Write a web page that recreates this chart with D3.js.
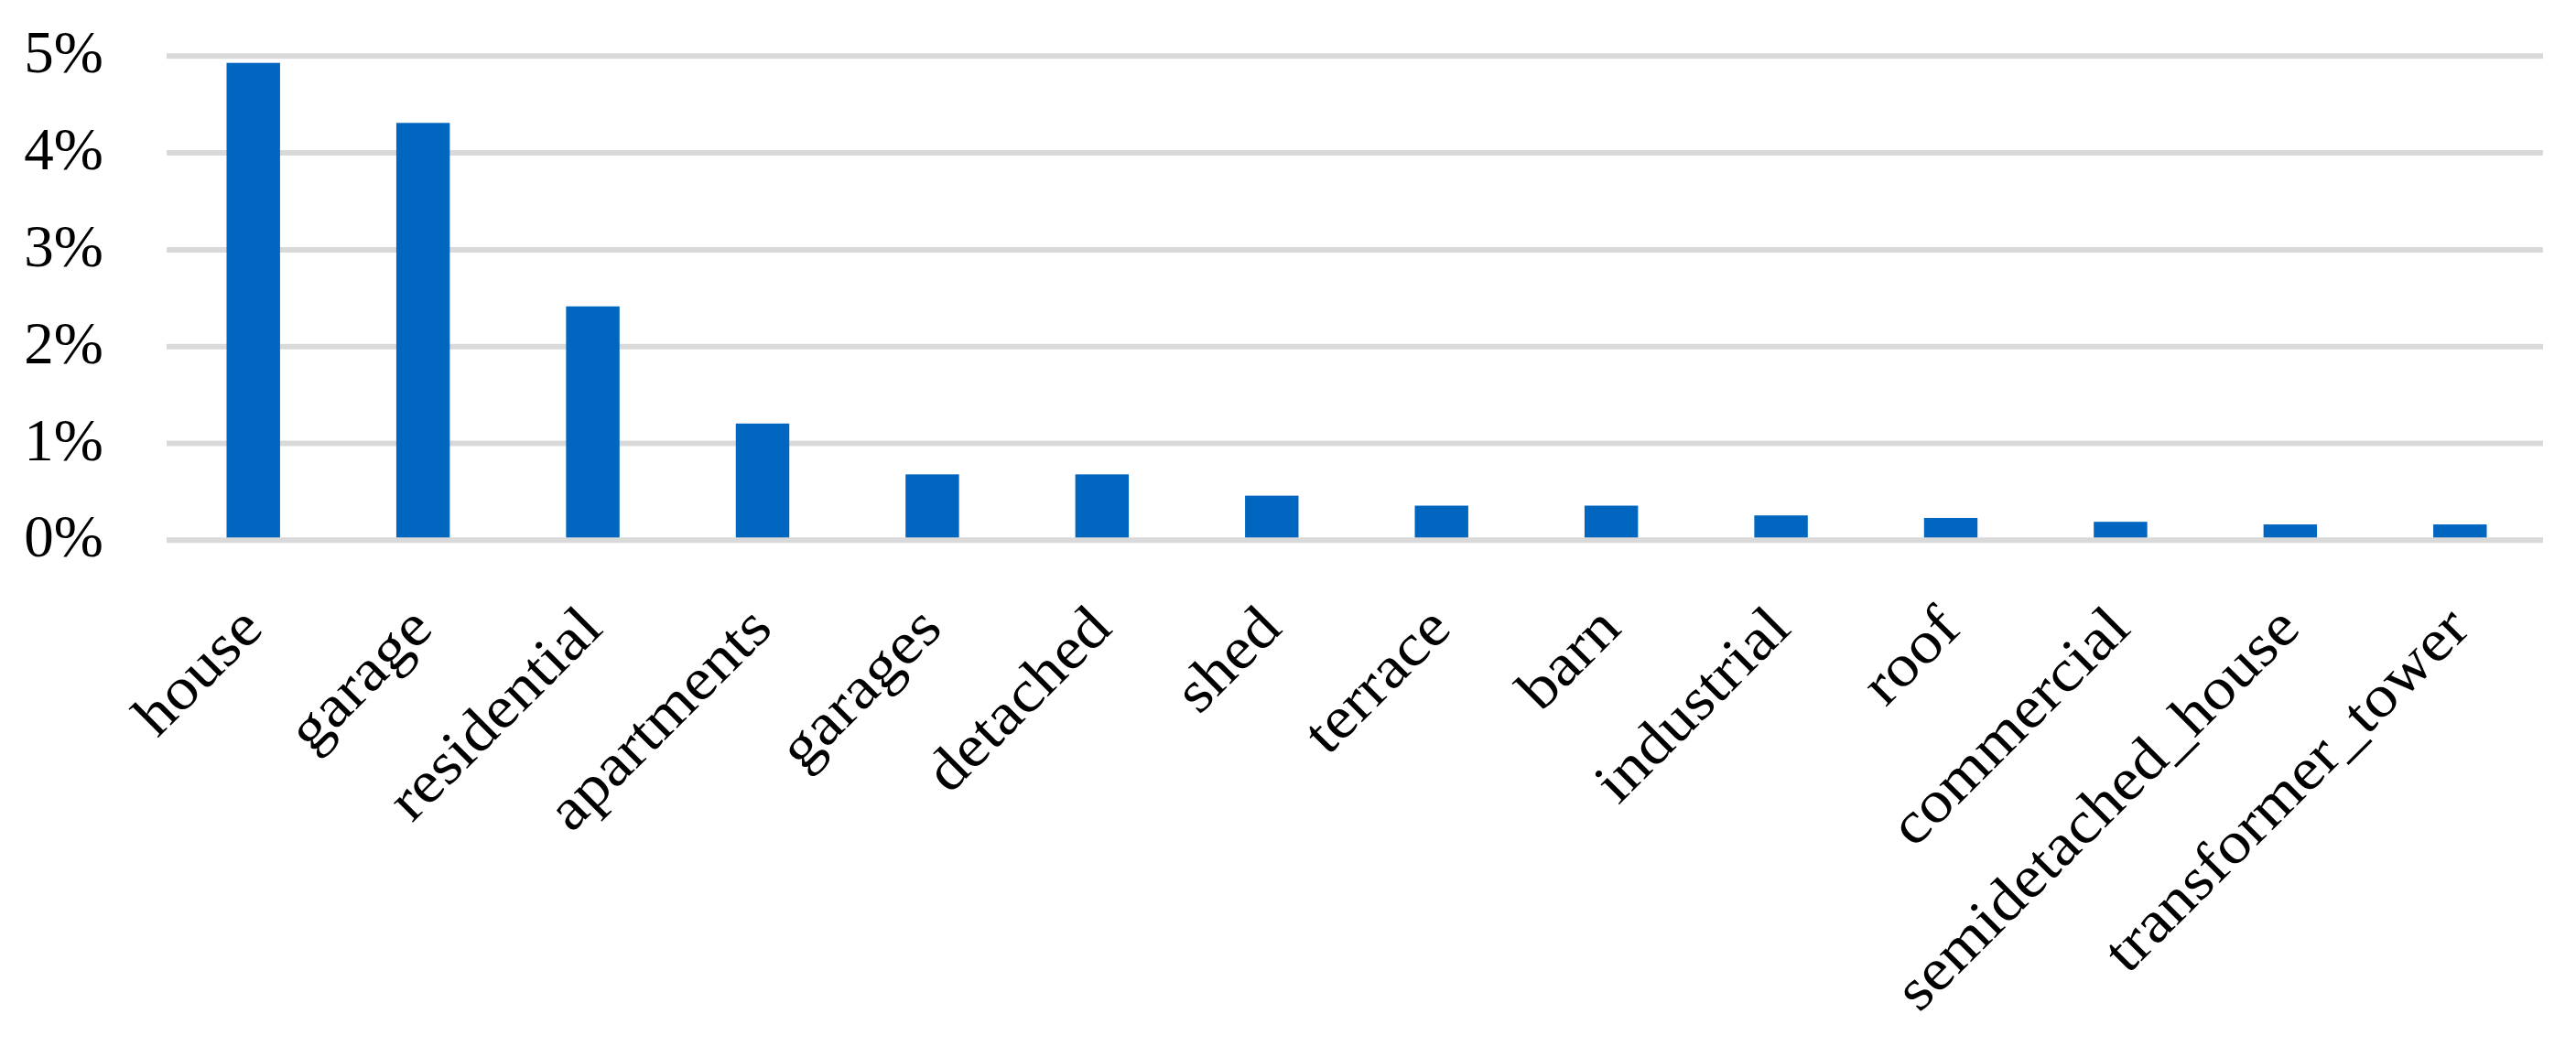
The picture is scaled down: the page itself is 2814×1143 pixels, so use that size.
<!DOCTYPE html>
<html>
<head>
<meta charset="utf-8">
<script src="https://cdn.jsdelivr.net/npm/d3@7/dist/d3.min.js"></script>
<style>
  html, body { margin: 0; padding: 0; background: #ffffff; }
  svg { display: block; }
</style>
</head>
<body>
<script>
// ---- data ----
const categories = ["house", "garage", "residential", "apartments", "garages", "detached", "shed",
  "terrace", "barn", "industrial", "roof", "commercial", "semidetached_house", "transformer_tower"];
const values = [4.93, 4.31, 2.415, 1.205, 0.68, 0.68, 0.46, 0.357, 0.357, 0.256, 0.23, 0.19, 0.163, 0.163];
const yTicks = [0, 1, 2, 3, 4, 5];
const yTickLabels = ["0%", "1%", "2%", "3%", "4%", "5%"];

// ---- layout ----
const W = 2814, H = 1143;
const gridX0 = 182, gridX1 = 2778;
const svg = d3.select("body").append("svg").attr("width", W).attr("height", H);

const x = d3.scaleBand().domain(categories).range([184, 2780]).paddingInner(0.685).paddingOuter(0.3425);
const y = d3.scaleLinear().domain([0, 5]).range([590.3, 61.3]);

const font = "'Liberation Serif', 'Times New Roman', serif";

// gridlines (non-zero)
svg.append("g").selectAll("line").data(yTicks.filter(d => d !== 0)).join("line")
  .attr("x1", gridX0).attr("x2", gridX1)
  .attr("y1", d => y(d)).attr("y2", d => y(d))
  .attr("stroke", "#d9d9d9").attr("stroke-width", 6);

// bars
svg.append("g").selectAll("rect").data(categories).join("rect")
  .attr("x", d => x(d))
  .attr("width", x.bandwidth())
  .attr("y", (d, i) => y(values[i]))
  .attr("height", (d, i) => y(0) - y(values[i]))
  .attr("fill", "#0066c0");

// zero line on top of bars
svg.append("line")
  .attr("x1", gridX0).attr("x2", gridX1)
  .attr("y1", y(0)).attr("y2", y(0))
  .attr("stroke", "#d9d9d9").attr("stroke-width", 6);

// y axis labels
const yAxis = d3.axisLeft(y).tickValues(yTicks)
  .tickFormat(d => yTickLabels[yTicks.indexOf(d)])
  .tickSize(0).tickPadding(0);
const gy = svg.append("g").attr("transform", "translate(113,0)").call(yAxis);
gy.select(".domain").remove();
gy.selectAll("text")
  .attr("font-family", font).attr("font-size", 65).attr("fill", "#000")
  .attr("dy", "0.27em");

// x axis labels
const xAxis = d3.axisBottom(x).tickSize(0).tickPadding(0);
const gx = svg.append("g").attr("transform", `translate(0,${y(0)})`).call(xAxis);
gx.select(".domain").remove();
gx.selectAll("text")
  .attr("font-family", font).attr("font-size", 65).attr("fill", "#000")
  .attr("x", null).attr("y", null).attr("dy", null)
  .attr("text-anchor", "end")
  .attr("transform", "translate(13,99) rotate(-45) scale(1.1,1)");
</script>
</body>
</html>
